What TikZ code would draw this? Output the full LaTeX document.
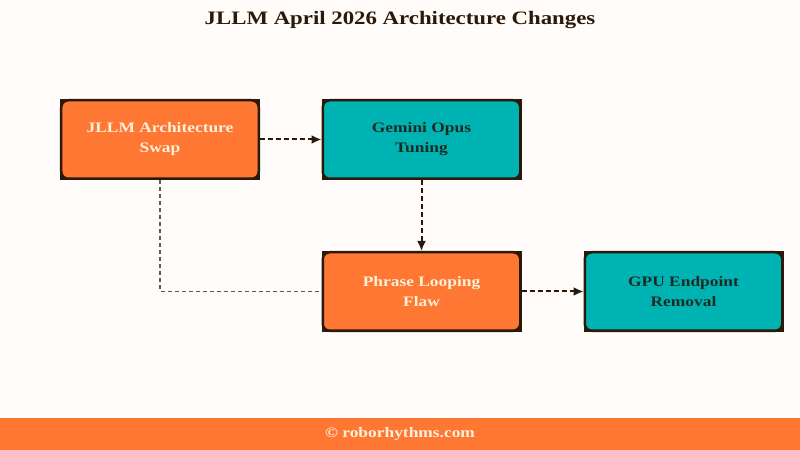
\documentclass[tikz,border=0pt]{standalone}
\usepackage{fontspec}
\setmainfont{Liberation Serif}[FakeStretch=1.2]
\usetikzlibrary{arrows.meta,backgrounds}
\definecolor{pageBg}{HTML}{FFFCFA}
\definecolor{warmOrange}{HTML}{FE7733}
\definecolor{deepTeal}{HTML}{00B3B3}
\definecolor{darkBrown}{HTML}{2B1A0A}
\definecolor{creamText}{HTML}{FFF1DA}
\definecolor{tealText}{HTML}{1C2A24}

\begin{document}
\begin{tikzpicture}[x=1bp, y=-1bp,
  boxStyle/.style={rounded corners=7bp, draw=darkBrown, line width=2.5bp, minimum width=197.5bp, minimum height=78.5bp, inner sep=0pt, align=center, font=\fontsize{14.5bp}{20bp}\selectfont\bfseries},
  orangeBox/.style={boxStyle, fill=warmOrange, text=creamText},
  tealBox/.style={boxStyle, fill=deepTeal, text=tealText},
  flowArrow/.style={draw=darkBrown, line width=2bp, dash pattern=on 5bp off 3bp, -{Latex[length=10bp, width=9bp]}},
  sideLine/.style={draw=black!65, line width=1.6bp, dash pattern=on 4bp off 3bp}
]
\useasboundingbox (0,0) rectangle (800,450);

\node [font=\fontsize{19bp}{22bp}\selectfont\bfseries, text=darkBrown] (title) at (400,20) {JLLM April 2026 Architecture Changes};

\node [orangeBox] (swap)    at (160,139.5)   {JLLM Architecture\\Swap};
\node [tealBox]   (tuning)  at (421.5,139.5) {Gemini Opus\\Tuning};
\node [orangeBox] (looping) at (421.5,291.5) {Phrase Looping\\Flaw};
\node [tealBox]   (removal) at (683.5,291.5) {GPU Endpoint\\Removal};

\draw [flowArrow] (swap.east) -- (tuning.west);
\draw [flowArrow] (tuning.south) -- (looping.north);
\draw [flowArrow] (looping.east) -- (removal.west);
\draw [sideLine]  (swap.south) |- (looping.west);

\fill [warmOrange] (0,418) rectangle (800,450);
\node [font=\fontsize{14.5bp}{16bp}\selectfont\bfseries, text=creamText] (credit) at (400,434) {© roborhythms.com};

\begin{scope}[on background layer]
\fill [pageBg] (0,0) rectangle (800,450);
\foreach \n in {swap,tuning,looping,removal}
  \fill [darkBrown] (\n.south west) rectangle (\n.north east);
\end{scope}
\end{tikzpicture}
\end{document}
